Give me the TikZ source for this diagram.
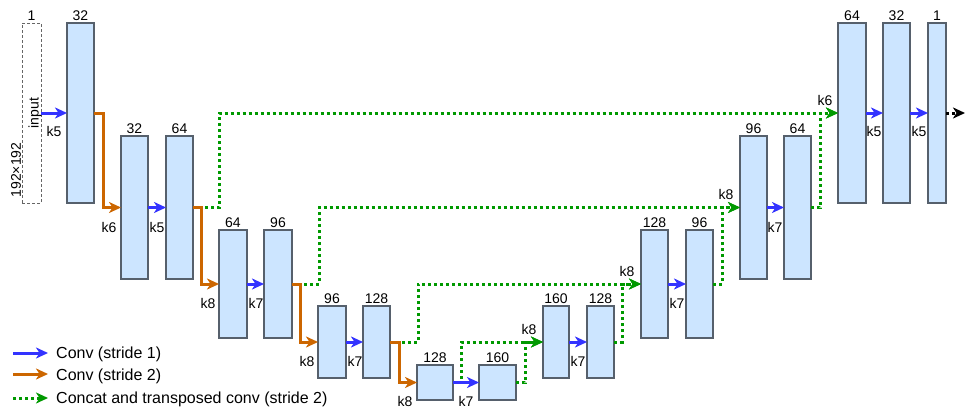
\documentclass[tikz,border=0pt]{standalone}
\usepackage{fontspec}
\setmainfont{Liberation Sans}
\usetikzlibrary{arrows.meta}
\definecolor{bfill}{HTML}{CCE5FF}
\definecolor{bdraw}{HTML}{56606C}
\definecolor{cblue}{HTML}{3333FF}
\definecolor{corng}{HTML}{CC6600}
\definecolor{cgrn}{HTML}{009900}
\tikzset{
  box/.style={draw=bdraw, fill=bfill, line width=1.2pt, inner sep=0pt, outer sep=0pt},
  inbox/.style={draw=black!60, dash pattern=on 3pt off 2pt, line width=0.8pt, inner sep=0pt, outer sep=0pt},
  lbl/.style={font=\fontsize{14}{14}\selectfont, inner sep=0pt},
  tip/.style={-{Stealth[length=12pt,width=11pt,inset=3.5pt]}},
  cb/.style={tip, draw=cblue, line width=3pt},
  co/.style={tip, draw=corng, line width=3pt},
  cg/.style={tip, draw=cgrn, line width=3pt, dash pattern=on 3pt off 3pt},
  ck/.style={tip, draw=black, line width=3pt, dash pattern=on 3pt off 3pt},
  leg/.style={font=\fontsize{16}{16}\selectfont, inner sep=0pt, anchor=west},
}
\begin{document}
\begin{tikzpicture}[x=1pt,y=-1pt]
\useasboundingbox (0,0) rectangle (967,410);
% boxes
\node[inbox, minimum width=19pt, minimum height=180pt] (in0) at (31.5,113) {};
\node[box, minimum width=27pt, minimum height=180pt] (e1) at (80.5,113) {};
\node[box, minimum width=27pt, minimum height=143pt] (e2a) at (134.5,207.5) {};
\node[box, minimum width=27pt, minimum height=143pt] (e2b) at (179.5,207.5) {};
\node[box, minimum width=28pt, minimum height=108pt] (e3a) at (233,284) {};
\node[box, minimum width=28pt, minimum height=108pt] (e3b) at (278,284) {};
\node[box, minimum width=28pt, minimum height=72pt] (e4a) at (332,342) {};
\node[box, minimum width=27pt, minimum height=72pt] (e4b) at (376.5,342) {};
\node[box, minimum width=36pt, minimum height=35pt] (b1) at (435,382.5) {};
\node[box, minimum width=37pt, minimum height=35pt] (b2) at (497.5,382.5) {};
\node[box, minimum width=26pt, minimum height=72pt] (d4a) at (556,342) {};
\node[box, minimum width=27pt, minimum height=72pt] (d4b) at (600.5,342) {};
\node[box, minimum width=27pt, minimum height=108pt] (d3a) at (654.5,284) {};
\node[box, minimum width=27pt, minimum height=108pt] (d3b) at (699.5,284) {};
\node[box, minimum width=27pt, minimum height=143pt] (d2a) at (753.5,207.5) {};
\node[box, minimum width=27pt, minimum height=143pt] (d2b) at (797.5,207.5) {};
\node[box, minimum width=28pt, minimum height=180pt] (d1a) at (852,113) {};
\node[box, minimum width=27pt, minimum height=180pt] (d1b) at (896.5,113) {};
\node[box, minimum width=18pt, minimum height=180pt] (d1c) at (937,113) {};
% channel labels
\foreach \n/\t in {in0/1,e1/32,e2a/32,e2b/64,e3a/64,e3b/96,e4a/96,e4b/128,b1/128,b2/160,d4a/160,d4b/128,d3a/128,d3b/96,d2a/96,d2b/64,d1a/64,d1b/32,d1c/1}
  \node[lbl, anchor=south, yshift=2pt] (t\n) at (\n.north) {\t};
\node[lbl, rotate=90] (tinput) at (35,113) {input};
\node[lbl, rotate=90] (tsize) at (16,170) {192×192};
% skip connections (green)
\draw[cg] (e2b.east) -- ++(26,0) |- (d1a.west);
\draw[cg] (e3b.east) -- ++(27,0) |- (d2a.west);
\draw[cg] (e4b.east) -- ++(28,0) |- (d3a.west);
\draw[cg] (b1.east) -- ++(8,0) |- (d4a.west);
\draw[cg] (b2.east) -- ++(9,0) |- (d4a.west);
\draw[cg] (d4b.east) -- ++(8,0) |- (d3a.west);
\draw[cg] (d3b.east) -- ++(9,0) |- (d2a.west);
\draw[cg] (d2b.east) -- ++(9,0) |- (d1a.west);
\coordinate (out) at (965,113);
\draw[ck] (d1c.east) -- (out);
% stride-2 convs (orange)
\draw[co] (e1.east) -- ++(9,0) |- (e2a.west);
\draw[co] (e2b.east) -- ++(8,0) |- (e3a.west);
\draw[co] (e3b.east) -- ++(8,0) |- (e4a.west);
\draw[co] (e4b.east) -- ++(9,0) |- (b1.west);
% stride-1 convs (blue)
\foreach \a/\b in {in0/e1,e2a/e2b,e3a/e3b,e4a/e4b,b1/b2,d4a/d4b,d3a/d3b,d2a/d2b,d1a/d1b,d1b/d1c}
  \draw[cb] (\a.east) -- (\b.west);
% kernel labels
\node[lbl] (k1) at (54,131) {k5};
\node[lbl] (k2) at (157,227) {k5};
\node[lbl] (k3) at (256,303) {k7};
\node[lbl] (k4) at (355,361) {k7};
\node[lbl] (k5) at (466,401) {k7};
\node[lbl] (k6) at (578,361) {k7};
\node[lbl] (k7) at (677,303) {k7};
\node[lbl] (k8) at (775,227) {k7};
\node[lbl] (k9) at (874,131) {k5};
\node[lbl] (k10) at (919,131) {k5};
\node[lbl] (k11) at (109,227) {k6};
\node[lbl] (k12) at (208,303) {k8};
\node[lbl] (k13) at (307,361) {k8};
\node[lbl] (k14) at (405,401) {k8};
\node[lbl] (k15) at (529,329) {k8};
\node[lbl] (k16) at (627,271) {k8};
\node[lbl] (k17) at (726,194) {k8};
\node[lbl] (k18) at (825,100) {k6};
% legend
\coordinate (l1a) at (13,353); \coordinate (l1b) at (48,353);
\coordinate (l2a) at (13,374); \coordinate (l2b) at (48,374);
\coordinate (l3a) at (13,398); \coordinate (l3b) at (48,398);
\draw[cb] (l1a) -- (l1b);
\draw[co] (l2a) -- (l2b);
\draw[cg] (l3a) -- (l3b);
\node[leg] (lg1) at (56,354.5) {Conv (stride 1)};
\node[leg] (lg2) at (56,376) {Conv (stride 2)};
\node[leg] (lg3) at (56,399) {Concat and transposed conv (stride 2)};
\end{tikzpicture}
\end{document}
